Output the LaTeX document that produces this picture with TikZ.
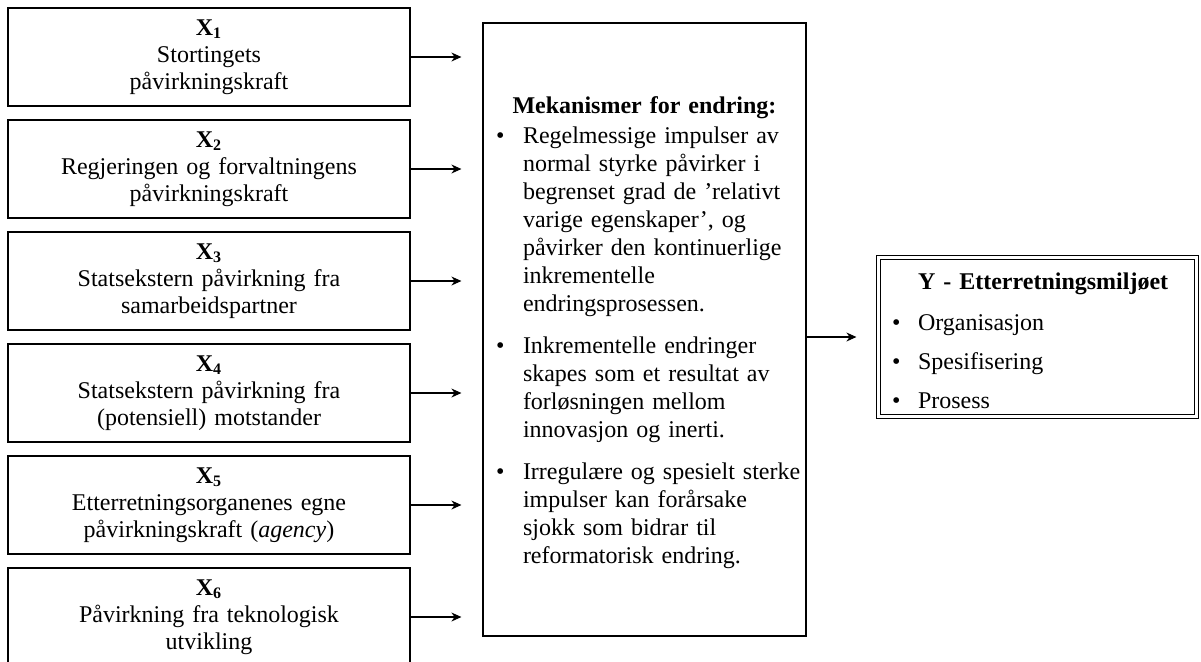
\documentclass[tikz,border=0pt]{standalone}
\usepackage{fontspec}
\setmainfont{Liberation Serif}
\usepackage{enumitem}
\usetikzlibrary{arrows.meta}

\begin{document}
\begin{tikzpicture}[x=0.5pt,y=-0.5pt,
  faktor/.style={draw,line width=0.6pt,text width=201pt,minimum height=49pt,inner sep=0pt,align=center,font=\fontsize{12pt}{13.5pt}\selectfont},
  ramme/.style={draw,line width=0.6pt,inner sep=0pt},
  brodtekst/.style={inner sep=0pt,align=left,font=\fontsize{12pt}{14pt}\selectfont},
  pil/.style={-{Stealth[length=5pt,width=4.5pt]},line width=0.6pt,shorten >=10.5pt}
  ]
    \useasboundingbox (0,0) rectangle (1201,661);

    % uavhengige variabler
    \node[faktor] (x1) at (209,57) {\textbf{X\textsubscript{1}}\\ Stortingets\\ påvirkningskraft};
    \node[faktor] (x2) at (209,169) {\textbf{X\textsubscript{2}}\\ Regjeringen og forvaltningens\\ påvirkningskraft};
    \node[faktor] (x3) at (209,281) {\textbf{X\textsubscript{3}}\\ Statsekstern påvirkning fra\\ samarbeidspartner};
    \node[faktor] (x4) at (209,393) {\textbf{X\textsubscript{4}}\\ Statsekstern påvirkning fra\\ (potensiell) motstander};
    \node[faktor] (x5) at (209,505) {\textbf{X\textsubscript{5}}\\ Etterretningsorganenes egne\\ påvirkningskraft (\textit{agency})};
    \node[faktor] (x6) at (209,617) {\textbf{X\textsubscript{6}}\\ Påvirkning fra teknologisk\\ utvikling};

    % mekanismer
    \node[ramme,minimum width=161.5pt,minimum height=306.5pt] (mek) at (644.5,329.5) {};
    \node[brodtekst,text width=160pt] (mektekst) at (644.5,333) {{\centering\textbf{Mekanismer for endring:}\par}\vspace{1pt}
      \begin{itemize}[label=\textbullet,leftmargin=19.25pt,labelwidth=13.5pt,labelsep=0pt,align=left,topsep=0pt,partopsep=0pt,itemsep=7pt,parsep=0pt]
        \item Regelmessige impulser av\\ normal styrke påvirker i\\ begrenset grad de ’relativt\\ varige egenskaper’, og\\ påvirker den kontinuerlige\\ inkrementelle\\ endringsprosessen.
        \item Inkrementelle endringer\\ skapes som et resultat av\\ forløsningen mellom\\ innovasjon og inerti.
        \item Irregulære og spesielt sterke\\ impulser kan forårsake\\ sjokk som bidrar til\\ reformatorisk endring.
      \end{itemize}};

    % avhengig variabel
    \node[ramme,double,double distance=1.5pt,minimum width=159pt,minimum height=79.5pt] (ymiljo) at (1037.5,337) {};
    \node[brodtekst,text width=159pt] (ytekst) at (1037.5,341) {\hspace*{19.75pt}\textbf{Y - Etterretningsmiljøet}\par\vspace{6.5pt}
      \begin{itemize}[label=\textbullet,leftmargin=19.75pt,labelwidth=13pt,labelsep=0pt,align=left,topsep=0pt,partopsep=0pt,itemsep=5.5pt,parsep=0pt]
        \item Organisasjon
        \item Spesifisering
        \item Prosess
      \end{itemize}};

    \draw[pil] (x1.east) -- (x1.east -| mek.west);
    \draw[pil] (x2.east) -- (x2.east -| mek.west);
    \draw[pil] (x3.east) -- (x3.east -| mek.west);
    \draw[pil] (x4.east) -- (x4.east -| mek.west);
    \draw[pil] (x5.east) -- (x5.east -| mek.west);
    \draw[pil] (x6.east) -- (x6.east -| mek.west);
    \draw[pil,shorten >=10.75pt] (ymiljo.west -| mek.east) -- (ymiljo.west);
\end{tikzpicture}
\end{document}
